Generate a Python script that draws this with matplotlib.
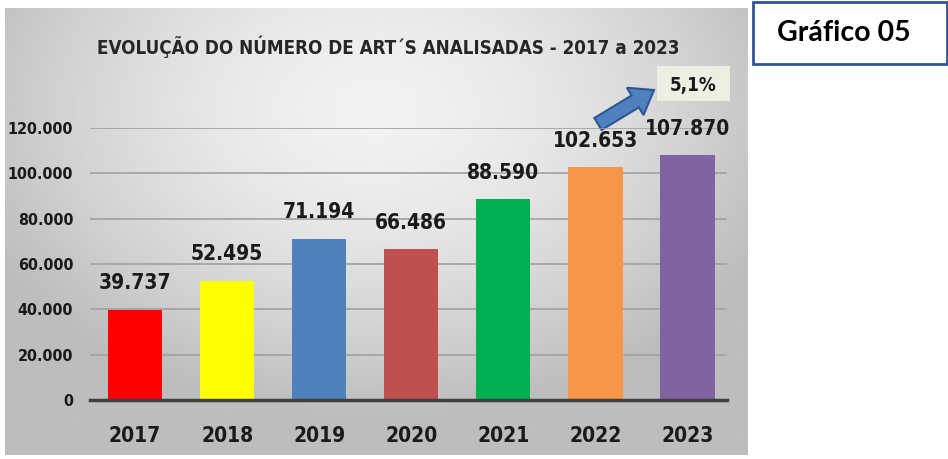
import matplotlib.pyplot as plt
import numpy as np
from matplotlib.patches import Rectangle, FancyArrow

years = ['2017', '2018', '2019', '2020', '2021', '2022', '2023']
arts = [39737, 52495, 71194, 66486, 88590, 102653, 107870]
value_labels = ['39.737', '52.495', '71.194', '66.486', '88.590', '102.653', '107.870']
bar_colors = ['#FF0000', '#FFFF00', '#4F81BD', '#C0504D', '#00B050', '#F79646', '#8064A2']
y_ticks = [0, 20000, 40000, 60000, 80000, 100000, 120000]
y_tick_labels = ['0', '20.000', '40.000', '60.000', '80.000', '100.000', '120.000']
growth_label = '5,1%'
title = 'EVOLUÇÃO DO NÚMERO DE ART´S ANALISADAS - 2017 a 2023'

narrow = ['DejaVu Sans']
W, H = 948, 459

fig = plt.figure(figsize=(W / 100, H / 100), dpi=100)
fig.patch.set_facecolor('white')

# overlay in pixel coordinates for the panel, boxes and arrow
bg = fig.add_axes([0, 0, 1, 1])
bg.set_xlim(0, W)
bg.set_ylim(H, 0)
bg.axis('off')

# gray gradient panel
px0, px1, py0, py1 = 5, 748, 8, 455
gx = np.linspace(-1, 1, 300)
gy = np.linspace(-1, 1, 200)
X, Y = np.meshgrid(gx, gy)
r = np.sqrt((X * 0.95) ** 2 + ((Y + 0.55) * 0.8) ** 2)
grad = np.clip(0.95 - 0.18 * r ** 1.6, 0.74, 0.95)
bg.imshow(grad, cmap='gray', vmin=0, vmax=1, extent=[px0, px1, py1, py0],
          aspect='auto', zorder=0)

bg.text(388, 47, title, ha='center', va='center', fontsize=13.5,
        fontweight='bold', color='#262626', family=narrow, fontstretch='condensed')

# growth box and arrow
bg.add_patch(Rectangle((657, 66), 73, 35, facecolor='#EEEEE2', edgecolor='none', zorder=2))
bg.text(693, 86, growth_label, ha='center', va='center', fontsize=13.5,
        fontweight='bold', color='#1a1a1a', family=narrow, fontstretch='condensed', zorder=3)
bg.add_patch(FancyArrow(598, 124, 56, -34, width=14, head_width=32, head_length=22,
                        length_includes_head=True, facecolor='#4F81BD',
                        edgecolor='#2F5597', linewidth=1.5, zorder=3))

# "Gráfico 05" box
bg.add_patch(Rectangle((753, 2), 194, 62, facecolor='white', edgecolor='#2F5597',
                       linewidth=2, zorder=2))
bg.text(777, 33, 'Gráfico 05', ha='left', va='center', fontsize=20.5,
        fontweight='bold', color='black', family=['Lato', 'DejaVu Sans'], zorder=3)

# main chart
ax = fig.add_axes([90 / W, 1 - 400 / H, 637 / W, 272 / H])
ax.patch.set_alpha(0)
x = np.arange(len(years))
ax.bar(x, arts, width=0.59, color=bar_colors, zorder=3)
ax.set_xlim(-0.49, 6.43)
ax.set_ylim(0, 120000)
ax.set_yticks(y_ticks)
ax.set_yticklabels(y_tick_labels)
ax.set_xticks(x)
ax.set_xticklabels(years)
ax.yaxis.grid(True, color='#A0A0A0', linewidth=1.2, zorder=0)
ax.set_axisbelow(True)
for s in ['top', 'right', 'left']:
    ax.spines[s].set_visible(False)
ax.spines['bottom'].set_color('#404040')
ax.spines['bottom'].set_linewidth(2.5)
ax.spines['bottom'].set_zorder(4)
ax.tick_params(axis='both', length=0)
ax.tick_params(axis='y', pad=12)
ax.tick_params(axis='x', pad=19)
for lab in ax.get_yticklabels():
    lab.set_fontsize(11.5)
    lab.set_fontweight('bold')
    lab.set_family(narrow)
    lab.set_fontstretch('condensed')
    lab.set_color('#1a1a1a')
for lab in ax.get_xticklabels():
    lab.set_fontsize(15)
    lab.set_fontweight('bold')
    lab.set_family(narrow)
    lab.set_fontstretch('condensed')
    lab.set_color('#1a1a1a')

for xi, v, lab in zip(x, arts, value_labels):
    ax.annotate(lab, (xi, v), xytext=(0, 12), textcoords='offset points',
                ha='center', va='bottom', fontsize=15, fontweight='bold',
                color='#1a1a1a', family=narrow, fontstretch='condensed')

fig.savefig('out.png', dpi=100)
